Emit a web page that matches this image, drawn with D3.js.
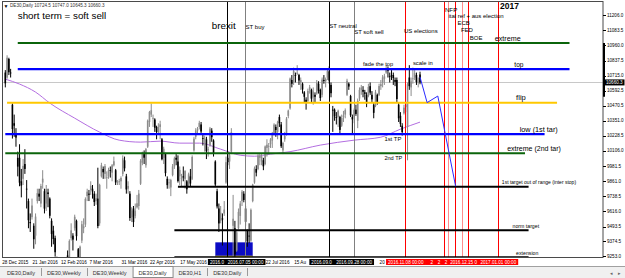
<!DOCTYPE html>
<html>
<head>
<meta charset="utf-8">
<script src="https://cdn.jsdelivr.net/npm/d3@7"></script>
<style>
body { margin: 0; background: #fff; }
svg { display: block; font-family: "Liberation Sans", Arial, sans-serif; }
</style>
</head>
<body>
<div class="interactive-wrapper"></div>
<script>

// DE30 daily bars [open, high, low, close], 28 Dec 2015 .. 18 Nov 2016
const ohlc = [
// Dec 2015
[10740,10760,10620,10653],[10700,10880,10690,10860],[10850,10860,10720,10743],[10740,10770,10700,10735],
// Jan
[10480,10490,10206,10283],[10330,10400,10220,10310],[10250,10290,10140,10214],[10050,10100,9900,9979],[10050,10160,9820,9849],
[9860,9960,9730,9825],[9880,10040,9830,9985],[10000,10120,9920,9960],[9800,9870,9640,9794],[9700,9720,9480,9545],
[9530,9600,9450,9521],[9570,9720,9550,9664],[9500,9520,9314,9391],[9420,9600,9350,9574],[9700,9800,9680,9764],
[9760,9800,9700,9736],[9680,9840,9650,9822],[9850,9950,9800,9881],[9780,9800,9600,9639],[9680,9830,9620,9798],
// Feb
[9770,9800,9650,9757],[9720,9730,9560,9581],[9540,9560,9330,9434],[9460,9500,9350,9393],[9400,9420,9250,9286],
[9200,9250,8950,8979],[8980,9060,8830,8879],[8940,9100,8900,9017],[8850,8880,8699,8752],[8800,9000,8780,8967],
[9100,9230,9080,9207],[9260,9300,9100,9135],[9150,9390,9100,9377],[9400,9520,9380,9463],[9420,9440,9300,9388],
[9480,9590,9460,9573],[9540,9550,9380,9416],[9310,9320,9110,9167],[9200,9340,9170,9331],[9380,9540,9360,9513],
[9480,9560,9440,9495],
// Mar
[9510,9730,9490,9717],[9740,9800,9700,9776],[9760,9790,9700,9751],[9790,9860,9750,9824],
[9800,9830,9720,9778],[9760,9780,9660,9692],[9700,9760,9670,9723],[9720,9970,9480,9498],[9520,9840,9500,9831],
[9900,10010,9890,9990],[9960,9980,9880,9933],[9920,10000,9880,9983],[9890,9940,9800,9892],[9900,9970,9880,9950],
[9950,9980,9890,9948],[9930,10000,9860,9990],[9990,10060,9980,10022],[9950,9960,9830,9851],[9850,9870,9830,9855],
[9855,9880,9830,9860],[9860,9900,9800,9887],[9920,10070,9900,10046],[10030,10060,9940,9965],
// Apr
[9900,9920,9760,9794],
[9800,9860,9760,9822],[9760,9780,9540,9563],[9570,9650,9530,9624],[9640,9660,9490,9530],[9580,9680,9560,9622],
[9650,9750,9640,9682],[9660,9790,9630,9761],[9840,10040,9830,10026],[10010,10100,9990,10093],[10080,10110,10000,10051],
[9990,10130,9970,10120],[10140,10360,10130,10350],[10340,10430,10300,10421],[10400,10490,10380,10435],[10370,10400,10300,10373],
[10360,10370,10260,10294],[10300,10310,10200,10259],[10260,10330,10240,10299],[10300,10350,10200,10321],[10200,10210,10030,10039],
// May
[10050,10140,10000,10123],[10080,10090,9900,9926],[9880,9900,9800,9829],[9850,9880,9800,9851],[9810,9880,9740,9870],
[9910,10000,9900,9980],[9980,10060,9960,10045],[10050,10080,9990,10035],[10020,10070,9850,9862],[9900,9980,9830,9952],
[9880,9920,9820,9890],[9900,9980,9860,9891],[9880,9950,9800,9943],[9860,9870,9760,9795],[9830,9930,9820,9916],
[9900,9960,9820,9842],[9880,10070,9870,10057],[10110,10220,10100,10205],[10220,10290,10200,10272],[10270,10300,10240,10286],
[10300,10350,10280,10333],[10320,10340,10250,10263],
// Jun
[10210,10240,10150,10205],[10200,10230,10100,10208],[10200,10220,10040,10103],
[10120,10140,10060,10121],[10150,10300,10140,10287],[10270,10290,10180,10217],[10190,10200,10060,10088],[10020,10030,9820,9834],
[9780,9800,9640,9657],[9640,9680,9450,9519],[9540,9660,9520,9606],[9560,9600,9340,9550],[9600,9700,9580,9631],
[9850,10060,9840,10015],[10050,10100,9990,10015],[10020,10090,9960,10071],[10100,10290,10090,10257],[9500,9750,9226,9557],
[9480,9540,9230,9268],[9300,9470,9290,9447],[9480,9640,9470,9612],[9580,9700,9510,9680],
// Jul
[9700,9790,9660,9776],
[9760,9780,9690,9709],[9640,9660,9500,9532],[9460,9470,9330,9373],[9420,9520,9360,9418],[9380,9640,9370,9629],
[9700,9840,9690,9833],[9850,9980,9840,9964],[9960,9990,9900,9930],[9960,10080,9950,10068],[10050,10090,9990,10066],
[10020,10080,9990,10063],[10030,10050,9950,9981],[10000,10150,9990,10142],[10130,10200,10060,10156],[10140,10170,10080,10147],
[10160,10210,10130,10198],[10190,10260,10130,10247],[10250,10330,10230,10319],[10300,10320,10220,10275],[10260,10350,10200,10337],
// Aug
[10380,10400,10300,10330],[10320,10340,10130,10144],[10110,10180,10080,10170],[10200,10260,10180,10228],[10240,10380,10230,10367],
[10390,10440,10370,10432],[10450,10700,10440,10692],[10680,10720,10620,10650],[10660,10780,10640,10753],[10720,10740,10660,10713],
[10730,10800,10720,10739],[10720,10730,10640,10676],[10660,10700,10600,10679],[10650,10660,10570,10603],[10580,10590,10500,10544],
[10520,10540,10440,10494],[10510,10610,10500,10592],[10600,10640,10570,10622],[10600,10610,10500,10529],[10540,10620,10480,10587],
[10560,10580,10500,10544],[10570,10680,10560,10657],[10650,10670,10570,10592],
// Sep
[10600,10610,10510,10534],[10560,10700,10540,10683],
[10680,10720,10650,10672],[10670,10700,10620,10687],[10700,10770,10680,10752],[10750,10790,10650,10675],[10640,10660,10540,10573],
[10440,10470,10260,10432],[10440,10450,10350,10386],[10380,10420,10320,10379],[10380,10440,10300,10431],[10380,10390,10250,10276],
[10310,10400,10300,10373],[10380,10430,10340,10393],[10400,10450,10370,10436],[10560,10690,10550,10674],[10650,10660,10600,10627],
[10550,10560,10380,10394],[10380,10400,10250,10361],[10380,10450,10330,10438],[10440,10480,10390,10405],[10350,10530,10290,10511],
// Oct
[10530,10620,10510,10600],[10600,10640,10560,10619],[10600,10630,10540,10585],[10580,10600,10520,10568],[10560,10580,10460,10490],
[10550,10650,10540,10624],[10630,10660,10560,10578],[10560,10590,10500,10523],[10480,10500,10370,10414],[10470,10600,10460,10580],
[10560,10570,10480,10503],[10560,10650,10550,10631],[10630,10680,10600,10646],[10660,10720,10620,10701],[10690,10730,10640,10710],
[10740,10800,10730,10761],[10760,10790,10700,10757],[10710,10740,10660,10709],[10720,10760,10680,10717],[10720,10740,10640,10696],
[10680,10700,10630,10665],
// Nov
[10680,10700,10500,10526],[10480,10500,10340,10370],[10390,10420,10300,10325],[10310,10330,10230,10259],
[10410,10480,10400,10456],[10460,10500,10420,10482],[10300,10660,10030,10646],[10700,10800,10600,10630],[10620,10700,10550,10668],
[10690,10780,10650,10693],[10700,10760,10680,10735],[10720,10740,10640,10663],[10660,10700,10620,10664],[10724.5,10747.0,10645.3,10660.3]
]

const firstDay = '2015-12-28'
const lastDay = '2016-11-18'
const closedDays = ['2016-01-01']

// moving average (purple)
const maDates = ['2015-12-28','2016-01-08','2016-01-21','2016-02-02','2016-02-22','2016-03-11','2016-03-28','2016-04-13','2016-04-28','2016-05-13','2016-05-30','2016-06-15','2016-06-30','2016-07-12','2016-07-25','2016-08-09','2016-09-01','2016-09-28','2016-10-19','2016-11-03','2016-11-18']
const maValues = [10687,10647,10582,10493,10371,10258,10193,10177,10185,10169,10169,10120,10071,10063,10080,10100,10153,10193,10217,10282,10339]

// projected path (thin blue)
const projDates = ['2016-11-18','2016-11-22','2016-11-28','2016-12-08']
const projValues = [10704,10497,10550,9820]

// horizontal levels
const levelNames = ['extreme','top','flip','low (1st tar)','extreme (2nd tar)','1st target out of range (inter stop)','norm target','extension']
const levelPrices = [10979,10768,10495,10242,10088,9816,9464,9245]
const levelFrom = ['2016-01-07','2016-01-07','2015-12-29','2015-12-28','2015-12-28','2016-05-12','2016-05-10','2016-05-10']
const levelTo = ['2017-02-10','2017-02-10','2017-02-03','2017-01-27','2017-01-16','2017-01-18','2017-01-18','2017-01-18']
const levelLabelDates = ['2016-12-30','2017-01-10','2017-01-11','2017-01-13','2017-01-06','2017-01-03','2017-01-09','2017-01-11']

// vertical events
const eventNames = ['brexit','ST buy','ST neutral','ST soft sell','US elections','NFP','ital ref + aus election','ECB','FED','BOE','2017']
const eventDates = ['2016-06-21','2016-07-05','2016-09-08','2016-09-28','2016-11-08','2016-12-02','2016-12-04','2016-12-08','2016-12-12','2016-12-15','2017-01-01']
const eventLabelDates = ['2016-06-08','2016-07-05','2016-09-08','2016-09-28','2016-11-07','2016-12-02','2016-12-04','2016-12-09','2016-12-11','2016-12-16','2017-01-02']
const eventLabelPrices = [11117,11109,11117,11068,11076,11250,11198,11141,11084,11020,11279]

// other text objects
const noteTexts = ['short term = soft sell','fade the top','scale in','1st TP','2nd TP']
const noteDates = ['2016-01-07','2016-10-05','2016-11-14','2016-10-21','2016-10-21']
const notePrices = [11206,10809,10817,10201,10047]

// brexit zone rectangle
const zoneDates = ['2016-06-10','2016-07-11']
const zonePrices = [9366,9244]

const priceTicks = [11206.0,11083.5,10960.0,10837.5,10715.0,10592.5,10470.5,10351.0,10228.5,10106.0,9981.5,9861.0,9738.5,9616.0,9493.5,9374.5,9253.0]
const axisRange = [10545,10980]
const dateTicks = ['2015-12-28','2016-01-21','2016-02-12','2016-03-07','2016-03-31','2016-04-22','2016-05-17','2016-06-08','2016-06-30','2016-07-22','2016-08-15','2016-09-06','2016-09-28','2016-10-20','2016-11-11']

const tabNames = ['DE30,Daily','DE30,Weekly','DE30,Weekly','DE30,Daily','DE30,H1','DE30,Daily']
const activeTab = 3

// styles
const levelColors = ['#0b640b','#0000ff','#ffc800','#0000ff','#0b640b','#000','#000','#000']
const levelWidths = [2,2.4,2,2.2,2,2.2,2.2,2.2]
const levelFont = [7.2,6.6,7.6,7.3,7,5,5.2,5.2]
const eventColors = ['#000','#808080','#000','#808080','#ff0000','#ff0000','#ff8c8c','#ff0000','#ff8c8c','#ff0000','#ff0000']
const eventFont = [9.8,6,6,6,6,6.2,6,6,6,6,8.5]
const noteFont = [9.8,5.7,5.9,5.9,5.6]

let width = 625
let height = 278

let parse = d3.timeParse('%Y-%m-%d')
let fmtDay = d3.timeFormat('%Y-%m-%d')
let first = parse(firstDay), last = parse(lastDay)

let days = d3.timeDay.range(first, d3.timeDay.offset(last, 1))
.filter(d => d.getDay() % 6 != 0 && !closedDays.includes(fmtDay(d)))

let dayTimes = days.map(d => +d)

// bars are trading days, after the last bar the chart runs on calendar days
const idx = s => {
	let d = parse(s)
	if (d <= last) return d3.bisectLeft(dayTimes, +d)
	return days.length - 1 + d3.timeDay.count(last, d)
}

let x = d3.scaleLinear().domain([0, days.length - 1]).range([5.3, 420])
let y = d3.scaleLinear().domain([9253, 11206]).range([256.3, 15])

const xd = s => x(idx(s))
const crisp = v => Math.round(v) + 0.5

let svg = d3.select('.interactive-wrapper').append('svg')
.attr('width', width)
.attr('height', height)

svg.append('rect').attr('width', width).attr('height', height).attr('fill', '#fff')

svg.append('clipPath').attr('id', 'plotclip')
.append('rect').attr('x', 3).attr('y', 2).attr('width', 600).attr('height', 255.5)

let plot = svg.append('g').attr('clip-path', 'url(#plotclip)')

// zone
plot.append('rect')
.attr('x', xd(zoneDates[0]))
.attr('y', y(zonePrices[0]))
.attr('width', xd(zoneDates[1]) - xd(zoneDates[0]))
.attr('height', y(zonePrices[1]) - y(zonePrices[0]))
.attr('fill', '#0b0bc4')

plot.append('line')
.attr('x1', xd(zoneDates[0])).attr('x2', xd(zoneDates[1]))
.attr('y1', y(zonePrices[1]) - 1).attr('y2', y(zonePrices[1]) - 1)
.attr('stroke', '#ffe600').attr('stroke-width', 1.5)

// bid line
let lastBar = ohlc[ohlc.length - 1]
plot.append('line')
.attr('x1', 3).attr('x2', 603)
.attr('y1', crisp(y(lastBar[3]))).attr('y2', crisp(y(lastBar[3])))
.attr('stroke', '#c8c8c8')

// moving average
plot.append('path')
.datum(maDates.map((d, i) => [xd(d), y(maValues[i])]))
.attr('d', d3.line().curve(d3.curveMonotoneX))
.attr('fill', 'none')
.attr('stroke', '#b36ee0')
.attr('stroke-width', 1)

// candles
let candles = plot.append('g')

candles.selectAll('line')
.data(ohlc)
.enter()
.append('line')
.attr('x1', (d, i) => x(i)).attr('x2', (d, i) => x(i))
.attr('y1', d => y(d[1])).attr('y2', d => y(d[2]))
.attr('stroke', d => d[3] >= d[0] ? '#8c8c8c' : '#000')
.attr('stroke-width', 1)

candles.selectAll('rect')
.data(ohlc)
.enter()
.append('rect')
.attr('x', (d, i) => x(i) - 0.8)
.attr('width', 1.6)
.attr('y', d => y(Math.max(d[0], d[3])))
.attr('height', d => Math.max(0.8, Math.abs(y(d[0]) - y(d[3]))))
.attr('fill', d => d[3] >= d[0] ? '#8c8c8c' : '#000')

// vertical event lines
plot.selectAll('.event')
.data(eventDates)
.enter()
.append('line')
.attr('class', 'event')
.attr('x1', d => crisp(xd(d) - 0.5)).attr('x2', d => crisp(xd(d) - 0.5))
.attr('y1', 2).attr('y2', 258)
.attr('stroke', (d, i) => eventColors[i])
.attr('stroke-width', 1)

// horizontal levels
plot.selectAll('.level')
.data(levelPrices)
.enter()
.append('line')
.attr('class', 'level')
.attr('x1', (d, i) => xd(levelFrom[i])).attr('x2', (d, i) => xd(levelTo[i]))
.attr('y1', d => y(d)).attr('y2', d => y(d))
.attr('stroke', (d, i) => levelColors[i])
.attr('stroke-width', (d, i) => levelWidths[i])

// projection
plot.append('path')
.datum(projDates.map((d, i) => [xd(d), y(projValues[i])]))
.attr('d', d3.line())
.attr('fill', 'none')
.attr('stroke', '#2a2aff')
.attr('stroke-width', 1)

// text objects
let texts = plot.append('g').attr('fill', '#000')

levelNames.map((t, i) => {
	texts.append('text')
	.attr('x', xd(levelLabelDates[i]))
	.attr('y', y(levelPrices[i]) - 2.5)
	.attr('font-size', levelFont[i])
	.text(t)
})

eventNames.map((t, i) => {
	texts.append('text')
	.attr('x', xd(eventLabelDates[i]))
	.attr('y', y(eventLabelPrices[i]))
	.attr('dominant-baseline', 'central')
	.attr('font-size', eventFont[i])
	.attr('font-weight', t === '2017' ? 'bold' : 'normal')
	.text(t)
})

noteTexts.map((t, i) => {
	texts.append('text')
	.attr('x', xd(noteDates[i]))
	.attr('y', y(notePrices[i]))
	.attr('dominant-baseline', 'central')
	.attr('font-size', noteFont[i])
	.text(t)
})

// header
let f1 = d3.format('.1f')
svg.append('text').attr('x', 3.5).attr('y', 5.5).attr('font-size', 5).attr('dominant-baseline', 'central').text('\u25BC')
svg.append('text').attr('x', 10).attr('y', 5.5).attr('font-size', 4.6).attr('fill', '#333')
.attr('dominant-baseline', 'central')
.text('DE30,Daily  ' + lastBar.map(f1).join(' '))

// frame
svg.append('rect')
.attr('x', 2.5).attr('y', 1.5).attr('width', 600.5).attr('height', 256)
.attr('fill', 'none').attr('stroke', '#4a4a4a')

// price axis
let axis = svg.append('g')
axis.selectAll('line')
.data(priceTicks)
.enter()
.append('line')
.attr('x1', 603).attr('x2', 606)
.attr('y1', d => crisp(y(d))).attr('y2', d => crisp(y(d)))
.attr('stroke', '#000')

axis.selectAll('text')
.data(priceTicks)
.enter()
.append('text')
.attr('x', 607).attr('y', d => y(d))
.attr('dominant-baseline', 'central')
.attr('font-size', 4.6)
.text(d => f1(d))

axis.append('line')
.attr('x1', 604).attr('x2', 604)
.attr('y1', y(axisRange[1])).attr('y2', y(axisRange[0]))
.attr('stroke', '#000').attr('stroke-width', 2)

axis.append('rect')
.attr('x', 603.5).attr('y', y(lastBar[3]) - 3).attr('width', 21).attr('height', 6)
.attr('fill', '#000')
axis.append('text')
.attr('x', 606).attr('y', y(lastBar[3]))
.attr('dominant-baseline', 'central')
.attr('font-size', 4.6).attr('fill', '#fff')
.text(f1(lastBar[3]))

// time axis: stamp boxes of the vertical lines sit over the date labels
let timeAxis = svg.append('g')
let stampLayer = svg.append('g')
let fmtStamp = d3.timeFormat('%Y.%m.%d %H:%M')
let fmtTick = d3.timeFormat('%-d %b %Y')

// cut a text from its end until it ends before limit
const fitBefore = (sel, full, limit) => {
	let s = full
	sel.text(s)
	while (s.length && +sel.attr('x') + sel.node().getComputedTextLength() > limit) {
		s = s.slice(0, -1).trimEnd()
		sel.text(s)
	}
	if (!s.length) sel.remove()
}

let boxes = eventDates.map((d, i) => {
	let probe = stampLayer.append('text').attr('font-size', 4.6).text(fmtStamp(parse(d)))
	let w = probe.node().getComputedTextLength() + 4
	probe.remove()
	return { x0: xd(d) - w / 2, x1: xd(d) + w / 2, label: fmtStamp(parse(d)),
		fill: eventColors[i] === '#000' || eventColors[i] === '#808080' ? '#000' : '#ff0000' }
})

boxes.map((b, i) => {
	let g = stampLayer.append('g')
	g.append('rect')
	.attr('x', b.x0).attr('y', 259).attr('width', b.x1 - b.x0).attr('height', 6)
	.attr('fill', b.fill)
	let t = g.append('text')
	.attr('x', b.x0 + 2).attr('y', 262)
	.attr('dominant-baseline', 'central')
	.attr('font-size', 4.6).attr('fill', '#fff')
	let next = boxes[i + 1]
	fitBefore(t, b.label, next && next.x0 < b.x1 ? next.x0 - 0.5 : b.x1)
})

dateTicks.map(d => {
	let sx = xd(d) - 3
	if (boxes.some(b => sx >= b.x0 - 1 && sx <= b.x1)) return
	let nextBox = boxes.find(b => b.x0 > sx)
	let t = timeAxis.append('text')
	.attr('x', sx).attr('y', 262)
	.attr('dominant-baseline', 'central')
	.attr('font-size', 4.6)
	fitBefore(t, fmtTick(parse(d)), nextBox ? nextBox.x0 - 1 : 602)
})

// tabs
let tabs = svg.append('g')
tabs.append('rect').attr('x', 0).attr('y', 266).attr('width', width).attr('height', 12).attr('fill', '#f0f0f0')
tabs.append('line').attr('x1', 0).attr('x2', width).attr('y1', 266.5).attr('y2', 266.5).attr('stroke', '#a0a0a0')

let tx = 1
tabNames.map((t, i) => {
	let label = tabs.append('text')
	.attr('x', tx + 6).attr('y', 272.5)
	.attr('dominant-baseline', 'central')
	.attr('font-size', 5.6).attr('fill', '#333')
	.text(t)
	let w = label.node().getComputedTextLength() + 12
	if (i === activeTab) {
		tabs.insert('rect', 'text')
		.attr('x', tx + 0.5).attr('y', 266.5).attr('width', w).attr('height', 11)
		.attr('fill', '#fff').attr('stroke', '#8a8a8a')
	} else if (i + 1 !== activeTab) {
		tabs.append('line')
		.attr('x1', crisp(tx + w)).attr('x2', crisp(tx + w))
		.attr('y1', 268).attr('y2', 276)
		.attr('stroke', '#9a9a9a')
	}
	tx += w
})

tabs.append('text').attr('x', 610).attr('y', 272.5).attr('dominant-baseline', 'central')
.attr('font-size', 5).attr('fill', '#666').text('\u25C2')
tabs.append('text').attr('x', 618).attr('y', 272.5).attr('dominant-baseline', 'central')
.attr('font-size', 5).attr('fill', '#666').text('\u25B8')

</script>
</body>
</html>
